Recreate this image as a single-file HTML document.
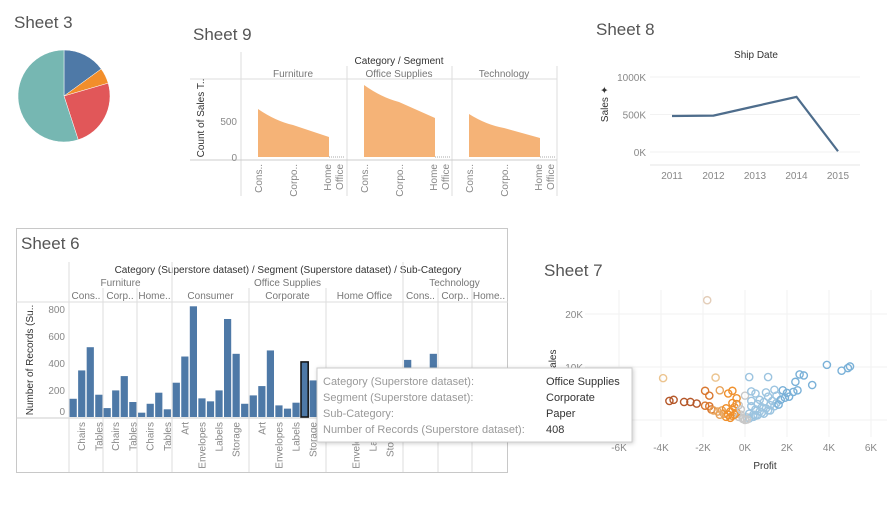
<!DOCTYPE html>
<html><head><meta charset="utf-8">
<style>
html,body{margin:0;padding:0;background:#fff;}
svg{display:block;font-family:"Liberation Sans",sans-serif;}
.t{font-size:17px;fill:#555;}
.h{font-size:10px;fill:#777;}
.hd{font-size:10px;fill:#333;}
.tk{font-size:10px;fill:#888;}
</style></head>
<body>
<svg id="s" width="887" height="505" viewBox="0 0 887 505">
<text class="t" x="14" y="28">Sheet 3</text>
<g id="pie"></g>

<text class="t" x="193" y="40">Sheet 9</text>
<g id="area">
 <text class="hd" x="399" y="64" text-anchor="middle">Category / Segment</text>
 <line x1="241" y1="52" x2="241" y2="196" stroke="#ddd"/>
 <line x1="347" y1="66" x2="347" y2="196" stroke="#ddd"/>
 <line x1="452" y1="66" x2="452" y2="196" stroke="#ddd"/>
 <line x1="557" y1="66" x2="557" y2="196" stroke="#ddd"/>
 <line x1="190" y1="79" x2="557" y2="79" stroke="#ddd"/>
 <line x1="190" y1="160" x2="557" y2="160" stroke="#ccc"/>
 <text x="204" y="118" font-size="10" fill="#333" text-anchor="middle" transform="rotate(-90 204 118)">Count of Sales T..</text>
</g>

<text class="t" x="596" y="35">Sheet 8</text>
<g id="line">
 <text class="hd" x="756" y="58" text-anchor="middle">Ship Date</text>
 <text x="608" y="104" font-size="10" fill="#333" text-anchor="middle" transform="rotate(-90 608 104)">Sales ✦</text>
 <line x1="650" y1="165" x2="860" y2="165" stroke="#e4e4e4"/>
</g>

<rect x="16.5" y="228.5" width="491" height="244" fill="none" stroke="#c8c8c8"/>
<text class="t" x="21" y="249">Sheet 6</text>
<g id="bars">
 <text class="hd" x="288" y="273" text-anchor="middle">Category (Superstore dataset) / Segment (Superstore dataset) / Sub-Category</text>
 <line x1="16" y1="302" x2="508" y2="302" stroke="#ddd"/>
 <line x1="16" y1="418" x2="508" y2="418" stroke="#ccc"/>
 <text x="33" y="360" font-size="10" fill="#333" text-anchor="middle" transform="rotate(-90 33 360)">Number of Records (Su..</text>
</g>

<text class="t" x="544" y="276">Sheet 7</text>
<g id="scat">
 <text x="556" y="362" font-size="10" fill="#333" text-anchor="middle" transform="rotate(-90 556 362)">Sales</text>
 <text x="765" y="469" font-size="10" fill="#333" text-anchor="middle">Profit</text>
</g>

<g id="tip">
 <rect x="317" y="368" width="315" height="74" fill="#fff" stroke="#ccc" filter="drop-shadow(1px 1px 2px rgba(0,0,0,0.2))"/>
 <g font-size="11" fill="#999">
  <text x="323" y="385">Category (Superstore dataset):</text>
  <text x="323" y="401">Segment (Superstore dataset):</text>
  <text x="323" y="417">Sub-Category:</text>
  <text x="323" y="433">Number of Records (Superstore dataset):</text>
 </g>
 <g font-size="11" fill="#333">
  <text x="546" y="385">Office Supplies</text>
  <text x="546" y="401">Corporate</text>
  <text x="546" y="417">Paper</text>
  <text x="546" y="433">408</text>
 </g>
</g>
</svg>
<script>
const NS='http://www.w3.org/2000/svg';
function mk(tag,attrs,parent,txt){const e=document.createElementNS(NS,tag);for(const k in attrs)e.setAttribute(k,attrs[k]);if(txt!==undefined)e.textContent=txt;parent.appendChild(e);return e;}

const pieLabels=['Segment A','Segment B','Segment C','Segment D'];
const pieValues=[15,5.5,24.5,55];
const pieColors=['#4e79a7','#f28e2b','#e15759','#76b7b2'];
(function(){
 const g=document.getElementById('pie');const cx=64,cy=96,r=46;
 const tot=pieValues.reduce((a,b)=>a+b,0);let a0=0;
 pieValues.forEach((v,i)=>{const a1=a0+v/tot*2*Math.PI;
  const x0=cx+r*Math.sin(a0),y0=cy-r*Math.cos(a0),x1=cx+r*Math.sin(a1),y1=cy-r*Math.cos(a1);
  const p=mk('path',{d:`M${cx},${cy}L${x0},${y0}A${r},${r} 0 ${a1-a0>Math.PI?1:0} 1 ${x1},${y1}Z`,fill:pieColors[i],stroke:'#fff','stroke-width':0.5},g);
  
  
  a0=a1;});
})();

const areaCategories=['Furniture','Office Supplies','Technology'];
const areaSegments=['Consumer','Corporate','Home Office'];
const areaFurniture=[667,444,278];
const areaOffice=[1000,764,542];
const areaTech=[597,403,264];
const areaTicks=[0,500];
(function(){
 const g=document.getElementById('area');
 const y=v=>157-v*0.072;
 const panes=[241,347,452];const offs=[17,52,88];
 const series=[areaFurniture,areaOffice,areaTech];
 areaTicks.forEach(t=>{const tx=mk('text',{x:237,y:y(t)+4,class:'tk','text-anchor':'end'},g,String(t));
  
  });
 panes.forEach((px,i)=>{
  const h=mk('text',{x:px+52,y:77,class:'h','text-anchor':'middle'},g,areaCategories[i]);
  
  
  const vals=series[i];
  let d=`M${px+offs[0]},157`;
  vals.forEach((v,j)=>{const xx=px+offs[j],yy=y(v);
   if(j===1){const xp=px+offs[0],yp=y(vals[0]);d+=` Q${(xp+xx)/2},${(yp+yy)/2+4} ${xx},${yy}`;} else d+=` L${xx},${yy}`;});
  d+=` L${px+offs[2]},157Z`;
  const a=mk('path',{d:d,fill:'#f5b377'},g);
  
  
  mk('line',{x1:px+offs[2],y1:157,x2:px+103,y2:157,stroke:'#aaa','stroke-dasharray':'1,1'},g);
  const labs=['Cons..','Corpo..','Home','Office'];const lx=[offs[0],offs[1],offs[2]-2,offs[2]+10];
  labs.forEach((l,j)=>{const X=px+lx[j]+4,Y=164;
   const t=mk('text',{x:X,y:Y,class:'tk','text-anchor':'end',transform:`rotate(-90 ${X} ${Y})`},g,l);
   
   });
 });
})();

const lineYears=['2011','2012','2013','2014','2015'];
const lineSales=[480,485,610,735,10];
const lineTicks=[0,500,1000];
(function(){
 const g=document.getElementById('line');
 const y=v=>152-v*0.075;const x=i=>672+i*41.5;
 lineTicks.forEach(t=>{mk('line',{x1:650,y1:y(t),x2:860,y2:y(t),stroke:'#f2f2f2'},g);
  const tx=mk('text',{x:646,y:y(t)+4,class:'tk','text-anchor':'end'},g,t+'K');
  
  });
 lineYears.forEach((yr,i)=>{const tx=mk('text',{x:x(i),y:179,class:'tk','text-anchor':'middle','font-size':11},g,yr);
  
  });
 const pl=mk('polyline',{points:lineSales.map((v,i)=>x(i)+','+y(v)).join(' '),fill:'none',stroke:'#4e6d8c','stroke-width':2.2},g);
 
 
})();

const barCategories=['Furniture','Office Supplies','Technology'];
const barSegments=['Cons..','Corp..','Home..','Consumer','Corporate','Home Office','Cons..','Corp..','Home..'];
const furnSubcats=['Bookcases','Chairs','Furnishings','Tables'];
const osSubcats=['Appliances','Art','Binders','Envelopes','Fasteners','Labels','Paper','Storage','Supplies'];
const techSubcats=['Accessories','Copiers','Machines','Phones'];
const barsFurnCons=[135,345,517,165];
const barsFurnCorp=[66,197,303,111];
const barsFurnHome=[32,98,180,57];
const barsOsCons=[254,448,820,138,116,197,726,468,98];
const barsOsCorp=[160,229,493,86,62,106,408,271,60];
const barsOsHome=[90,130,280,50,40,60,250,160,35];
const barsTechCons=[423,40,150,468];
const barsTechCorp=[230,30,90,260];
const barsTechHome=[120,20,60,140];
const barTicks=[0,200,400,600,800];
(function(){
 const g=document.getElementById('bars');
 const y=v=>417-v*0.135;
 const edges=[69,103,137,172,249,326,403,438,472,506];
 const data=[barsFurnCons,barsFurnCorp,barsFurnHome,barsOsCons,barsOsCorp,barsOsHome,barsTechCons,barsTechCorp,barsTechHome];
 const subs=[furnSubcats,furnSubcats,furnSubcats,osSubcats,osSubcats,osSubcats,techSubcats,techSubcats,techSubcats];
 [[69,172],[172,403],[403,506]].forEach((r,i)=>{const t=mk('text',{x:(r[0]+r[1])/2,y:286,class:'h','text-anchor':'middle'},g,barCategories[i]);
  
  });
 [69,172,403].forEach(x=>mk('line',{x1:x,y1:262,x2:x,y2:472,stroke:'#ddd'},g));
 edges.slice(1,9).forEach(x=>mk('line',{x1:x,y1:288,x2:x,y2:472,stroke:'#ddd'},g));
 barTicks.forEach(t=>{const tx=mk('text',{x:65,y:y(t)+(t===0?-2:4),class:'tk','text-anchor':'end'},g,String(t));
  
  });
 data.forEach((vals,p)=>{
  const x0=edges[p],w=edges[p+1]-edges[p];
  const s=mk('text',{x:x0+w/2,y:299,class:'h','text-anchor':'middle'},g,barSegments[p]);
  
  
  const step=8.55;const pad=(w-step*vals.length)/2;
  vals.forEach((v,i)=>{const cx=x0+pad+step*(i+0.5);
   const hl=(p===4&&i===6);
   const r=mk('rect',{x:cx-3.6,y:y(v),width:7.2,height:417-y(v),fill:'#4e79a7',stroke:hl?'#111':'none','stroke-width':hl?1.5:0},g);
   
   
   if(i%2===1){let lab=subs[p][i];if(p>=6)lab=lab.slice(0,2)+'..';
    const X=cx+3.5,Y=422;
    const t=mk('text',{x:X,y:Y,class:'tk','text-anchor':'end',transform:`rotate(-90 ${X} ${Y})`},g,lab);
    
    }
  });
 });
})();

const scatProfitK=[-1.8,-3.9,-1.4,0.2,1.1,3.9,4.6,4.9,5.0,2.6,2.8,2.4,3.2,-3.6,-3.4,-2.9,-2.6,-2.3,-1.9,-1.7,-1.6,-1.9,-1.7,-1.2,-0.8,-0.6,-0.4,0.0,0.3,0.5,1.0,1.4,1.8,2.0,2.3,2.5,1.5,1.1,0.7,-1.3,-1.1,-1.0,-0.9,-0.8,-0.7,-0.6,-0.5,-0.4,-0.3,-0.2,-0.1,-0.9,-0.7,-0.5,-0.3,-0.6,-0.4,-0.2,0.1,0.2,0.3,0.4,0.5,0.6,0.7,0.8,0.9,1.0,1.2,1.3,1.5,1.7,1.9,2.1,0.3,0.5,0.8,1.1,1.4,1.6,0.2,0.4,0.6,0.9,1.2,-0.1,0.1,0.0,-1.2,-1.5];
const scatSalesK=[22.6,7.9,8.0,8.1,8.1,10.4,9.3,9.8,10.1,8.6,8.4,7.2,6.6,3.6,3.8,3.4,3.4,3.1,2.7,2.6,2.0,5.5,4.6,5.6,5.0,5.5,4.1,4.6,5.4,5.0,5.2,5.7,5.6,5.1,5.3,5.6,4.6,4.4,3.8,1.6,1.8,1.2,2.2,1.0,1.6,0.8,2.4,1.4,0.6,1.0,0.4,0.6,0.4,1.0,2.8,3.2,3.0,2.0,0.5,1.2,2.6,1.0,2.0,3.0,1.6,2.4,3.4,2.2,2.8,3.6,3.2,3.8,4.2,4.4,3.6,0.8,1.4,1.8,2.6,2.9,0.3,0.6,0.9,1.2,1.8,0.2,0.1,0.0,1.0,1.8];
const scatXTicks=[-6,-4,-2,0,2,4,6];
const scatYTicks=[0,10,20];
(function(){
 const g=document.getElementById('scat');
 const x=v=>745+v*21,y=v=>420-v*5.3;
 scatXTicks.forEach(t=>{mk('line',{x1:x(t),y1:290,x2:x(t),y2:437,stroke:'#f2f2f2'},g);
  const tx=mk('text',{x:x(t),y:451,class:'tk','text-anchor':'middle'},g,t+'K');
  
  });
 scatYTicks.forEach(t=>{mk('line',{x1:585,y1:y(t),x2:887,y2:y(t),stroke:'#f2f2f2'},g);
  const tx=mk('text',{x:583,y:y(t)+4,class:'tk','text-anchor':'end'},g,t+'K');
  
  });
 function col(p,s){
  if(p<0&&s>15)return '#e3cdb8';
  if(p<0&&s>7)return '#ecc48f';
  if(p<-2.2)return '#b5582a';if(p<-1.5)return '#d9772f';if(p<-0.9)return '#e8a35a';if(p<-0.3)return '#f0902c';if(p<0.15)return '#c8c8c8';if(p<1.6)return '#9cc4e0';return '#7ab1d8';}
 scatProfitK.forEach((p,i)=>{const c=mk('circle',{cx:x(p),cy:y(scatSalesK[i]),r:3.6,fill:'none',stroke:col(p,scatSalesK[i]),'stroke-width':1.4},g);
  
  });
})();
document.getElementById('s').appendChild(document.getElementById('tip'));
</script>
</body></html>
